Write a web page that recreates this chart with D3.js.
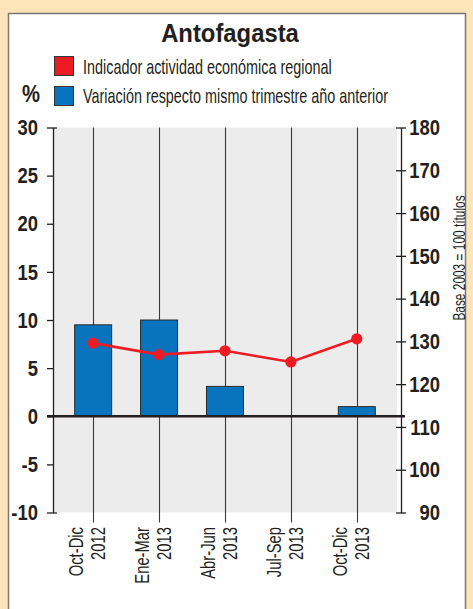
<!DOCTYPE html>
<html>
<head>
<meta charset="utf-8">
<script src="https://cdn.jsdelivr.net/npm/d3@7"></script>
<style>
  html, body { margin: 0; padding: 0; background: #fde5b9; }
  svg { display: block; }
</style>
</head>
<body>
<svg id="chart" width="473" height="609"></svg>
<script>
// Quarterly data for the Antofagasta region
const categories = [
  ["Oct-Dic", "2012"],
  ["Ene-Mar", "2013"],
  ["Abr-Jun", "2013"],
  ["Jul-Sep", "2013"],
  ["Oct-Dic", "2013"]
];
// Year-on-year change for the same quarter (%)
const variationPct = [9.5, 10.0, 3.1, 0.0, 1.0];
// Regional economic activity indicator (base 2003 = 100)
const activityIndex = [129.6, 126.9, 127.8, 125.2, 130.6];

const leftTicks = [30, 25, 20, 15, 10, 5, 0, -5, -10];
const rightTicks = [180, 170, 160, 150, 140, 130, 120, 110, 100, 90];

const titleText = "Antofagasta";
const legendItems = [
  { label: "Indicador actividad económica regional", color: "#ed1c24" },
  { label: "Variación respecto mismo trimestre año anterior", color: "#0874be" }
];
const leftUnit = "%";
const rightUnit = "Base 2003 = 100 títulos";

const FONT = "'Liberation Sans', Arial, sans-serif";
const svg = d3.select("#chart");

// place a text at (px, py), optionally rotated, squeezed horizontally by k
// to imitate a condensed typeface
function placeText(parent, txt, px, py, k, opts) {
  const o = Object.assign({ rotate: 0, anchor: "start", size: 20, weight: "normal" }, opts);
  return parent.append("text")
    .attr("transform", `translate(${px},${py}) rotate(${o.rotate}) scale(${k},1)`)
    .attr("text-anchor", o.anchor)
    .attr("font-family", FONT)
    .attr("font-weight", o.weight)
    .attr("font-size", o.size)
    .attr("fill", "#231f20")
    .text(txt);
}

// white panel with a grey frame
svg.append("rect")
  .attr("x", 8.5).attr("y", 13.5)
  .attr("width", 457).attr("height", 620)
  .attr("fill", "#ffffff")
  .attr("stroke", "#777")
  .attr("stroke-width", 1.5);

const plot = { left: 53, right: 401, top: 127.5, bottom: 512.5 };

const x = d3.scalePoint()
  .domain(d3.range(categories.length))
  .range([plot.left, plot.right])
  .padding(0.64)
  .align(0.476);

const yL = d3.scaleLinear().domain([-10, 30]).range([plot.bottom, plot.top]);
const yR = d3.scaleLinear().domain([90, 180]).range([plot.bottom, plot.top]);

// plot background
svg.append("rect")
  .attr("x", plot.left).attr("y", plot.top)
  .attr("width", plot.right - plot.left - 4)
  .attr("height", plot.bottom - plot.top)
  .attr("fill", "#ececec");

// category guide lines
svg.append("g").selectAll("line")
  .data(categories)
  .join("line")
  .attr("x1", (d, i) => Math.round(x(i)) + 0.5)
  .attr("x2", (d, i) => Math.round(x(i)) + 0.5)
  .attr("y1", plot.top)
  .attr("y2", plot.bottom + 10)
  .attr("stroke", "#3a3a3a")
  .attr("stroke-width", 1.1);

// bars: year-on-year change
const barW = 37;
svg.append("g").selectAll("rect")
  .data(variationPct)
  .join("rect")
  .attr("x", (d, i) => x(i) - barW / 2)
  .attr("y", d => yL(Math.max(0, d)))
  .attr("width", barW)
  .attr("height", d => Math.abs(yL(d) - yL(0)))
  .attr("fill", "#0874be")
  .attr("stroke", "#2b2b2b")
  .attr("stroke-width", 1);

// zero line
svg.append("line")
  .attr("x1", plot.left - 6).attr("x2", plot.right + 4)
  .attr("y1", yL(0)).attr("y2", yL(0))
  .attr("stroke", "#231f20")
  .attr("stroke-width", 2.5);

const TICK_K = 0.82;

// left axis
const leftAxis = d3.axisLeft(yL).tickValues(leftTicks).tickFormat(d => String(d))
  .tickSize(6).tickSizeOuter(0).tickPadding(9);
const gl = svg.append("g").attr("transform", `translate(${plot.left},0)`).call(leftAxis);
gl.select(".domain").attr("stroke", "#231f20").attr("stroke-width", 1.3);
gl.selectAll(".tick line").attr("stroke", "#231f20").attr("stroke-width", 1.3);
gl.selectAll(".tick").filter(d => d === 30 || d === -10)
  .select("line").attr("x1", 4);
gl.selectAll(".tick text")
  .attr("x", -15 / TICK_K)
  .attr("transform", `scale(${TICK_K},1)`)
  .attr("font-family", FONT).attr("font-weight", "bold")
  .attr("font-size", 22.5).attr("fill", "#231f20");

// right axis
const rightAxis = d3.axisRight(yR).tickValues(rightTicks).tickFormat(d => String(d))
  .tickSize(5).tickSizeOuter(0).tickPadding(0);
const gr = svg.append("g").attr("transform", `translate(${plot.right},0)`).call(rightAxis);
gr.select(".domain").attr("stroke", "#231f20").attr("stroke-width", 1.3);
gr.selectAll(".tick line").attr("x1", -5).attr("stroke", "#231f20").attr("stroke-width", 1.3);
gr.selectAll(".tick text")
  .attr("x", 39 / TICK_K).attr("text-anchor", "end")
  .attr("transform", `scale(${TICK_K},1)`)
  .attr("font-family", FONT).attr("font-weight", "bold")
  .attr("font-size", 22.5).attr("fill", "#231f20");

// activity indicator line
const line = d3.line()
  .x((d, i) => x(i))
  .y(d => yR(d));
svg.append("path")
  .datum(activityIndex)
  .attr("d", line)
  .attr("fill", "none")
  .attr("stroke", "#ed1c24")
  .attr("stroke-width", 2.6);
svg.append("g").selectAll("circle")
  .data(activityIndex)
  .join("circle")
  .attr("cx", (d, i) => x(i))
  .attr("cy", d => yR(d))
  .attr("r", 5.6)
  .attr("fill", "#ed1c24");

// category labels, rotated, two lines each
const labG = svg.append("g");
categories.forEach((pair, i) => {
  pair.forEach((txt, j) => {
    placeText(labG, txt, x(i) + (j === 0 ? -10 : 12), 527, 0.74,
      { rotate: -90, anchor: "end", size: 20 });
  });
});

// title
placeText(svg, titleText, 230, 41.5, 0.9,
  { anchor: "middle", size: 26.5, weight: "bold" });

// legend
const lg = svg.append("g");
legendItems.forEach((it, i) => {
  lg.append("rect")
    .attr("x", 54.5).attr("y", 56.5 + i * 30)
    .attr("width", 19).attr("height", 19)
    .attr("fill", it.color)
    .attr("stroke", "#333").attr("stroke-width", 1);
  placeText(lg, it.label, 83, 74 + i * 29, 0.72, { size: 20 });
});

// unit labels
placeText(svg, leftUnit, 22, 102, 0.88, { size: 23, weight: "bold" });
placeText(svg, rightUnit, 465, 258, 0.7, { rotate: -90, anchor: "middle", size: 17 });
</script>
</body>
</html>
